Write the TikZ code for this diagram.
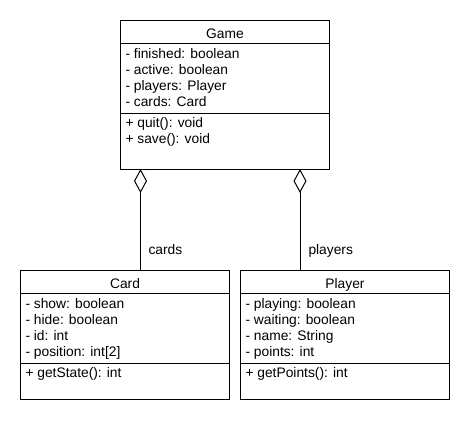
\documentclass[tikz,border=0pt]{standalone}
\usepackage{fontspec}
\setmainfont{Liberation Sans}
\usetikzlibrary{arrows.meta}
\begin{document}
\begin{tikzpicture}[x=1pt,y=-1pt,line width=1pt,
  classbox/.style={draw, rectangle, inner sep=0pt, outer sep=0pt, anchor=north west, minimum width=209pt},
  txt/.style={anchor=base west, inner sep=0pt, font=\fontsize{13.8}{15.8}\selectfont},
  ttl/.style={anchor=base, inner sep=0pt, font=\fontsize{13.8}{15.8}\selectfont},
  aggr/.style={-{Diamond[open,length=24pt,width=13pt]}}]
\useasboundingbox (0,0) rectangle (470,420);
\fill[white] (0,0) rectangle (470,420);

% Game
\node[classbox, minimum height=148pt] (game) at (120.5,21) {};
\draw (game.west |- 0,43.5) -- (game.east |- 0,43.5);
\draw (game.west |- 0,113) -- (game.east |- 0,113);
\node[ttl] (gt) at (225,38) {Game};
\node[txt] (ga1) at (125,58.8) {- finished: boolean};
\node[txt] (ga2) at (125,74.6) {- active: boolean};
\node[txt] (ga3) at (125,90.4) {- players: Player};
\node[txt] (ga4) at (125,106.2) {- cards: Card};
\node[txt] (gm1) at (125,127.8) {+ quit(): void};
\node[txt] (gm2) at (125,143.6) {+ save(): void};

% Card
\node[classbox, minimum height=129.5pt] (card) at (20.5,270) {};
\draw (card.west |- 0,293.5) -- (card.east |- 0,293.5);
\draw (card.west |- 0,363) -- (card.east |- 0,363);
\node[ttl] (ct) at (125,288) {Card};
\node[txt] (ca1) at (25,308.8) {- show: boolean};
\node[txt] (ca2) at (25,324.6) {- hide: boolean};
\node[txt] (ca3) at (25,340.4) {- id: int};
\node[txt] (ca4) at (25,356.2) {- position: int[2]};
\node[txt] (cm1) at (25,377.8) {+ getState(): int};

% Player
\node[classbox, minimum height=129.5pt] (player) at (240.5,270) {};
\draw (player.west |- 0,293.5) -- (player.east |- 0,293.5);
\draw (player.west |- 0,363) -- (player.east |- 0,363);
\node[ttl] (pt) at (345,288) {Player};
\node[txt] (pa1) at (245,308.8) {- playing: boolean};
\node[txt] (pa2) at (245,324.6) {- waiting: boolean};
\node[txt] (pa3) at (245,340.4) {- name: String};
\node[txt] (pa4) at (245,356.2) {- points: int};
\node[txt] (pm1) at (245,377.8) {+ getPoints(): int};

% Aggregations
\coordinate (gc) at (140.5,169);
\coordinate (gp) at (300,169);
\draw[aggr] (gc |- card.north) -- (gc);
\draw[aggr] (gp |- player.north) -- (gp);
\node[txt] (lc) at (148,254.5) {cards};
\node[txt] (lp) at (308,254.5) {players};
\end{tikzpicture}
\end{document}
